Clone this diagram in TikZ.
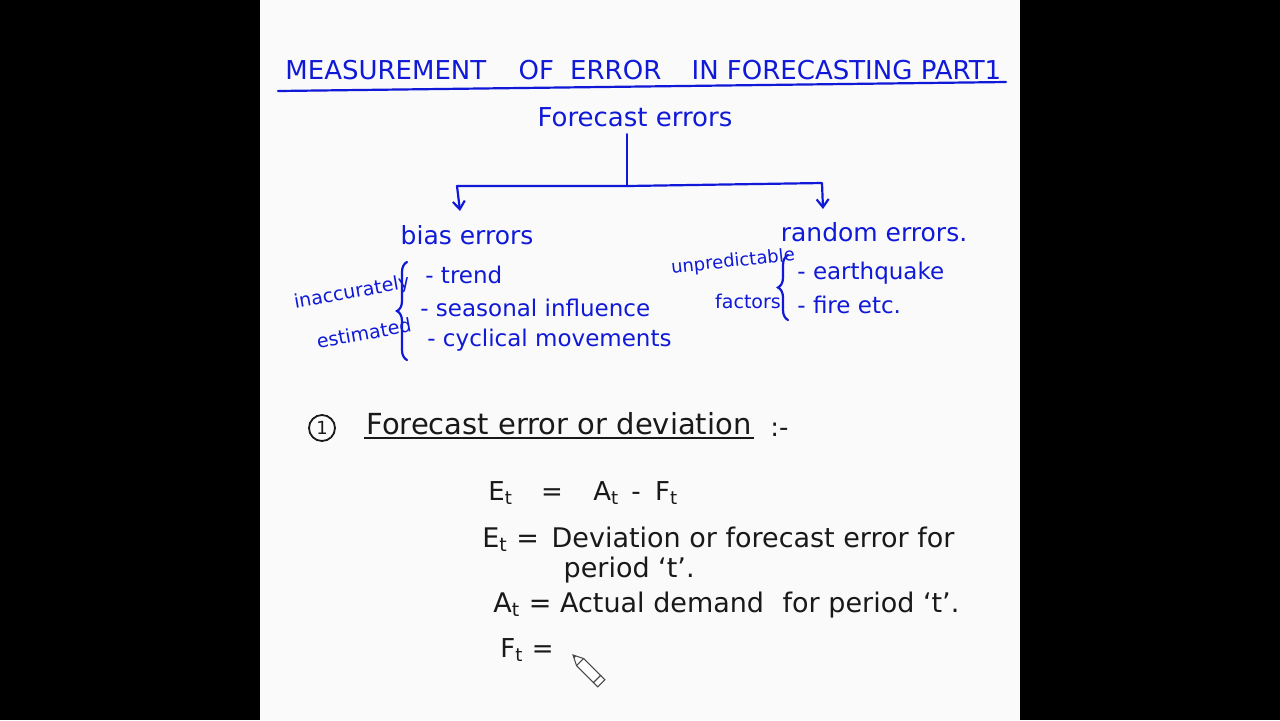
\documentclass[tikz,border=0pt]{standalone}
\usepackage{fontspec}
\setmainfont{DejaVu Sans}
\usepackage{tikz}
\usetikzlibrary{arrows.meta, positioning, decorations.pathreplacing}
\definecolor{penblue}{RGB}{15, 25, 215}
\definecolor{penblack}{RGB}{25, 25, 25}
\definecolor{paper}{RGB}{250, 250, 250}
\tikzset{
  blueink/.style={text=penblue, inner sep=1pt,
    font=\fontsize{12.5}{15}\selectfont},
  itemink/.style={blueink, anchor=west, font=\fontsize{11.5}{14}\selectfont},
  noteink/.style={blueink, font=\fontsize{9.5}{11}\selectfont},
  blackink/.style={text=penblack, inner sep=1pt, anchor=west,
    font=\fontsize{13}{15}\selectfont},
  stroke/.style={draw=penblue, line width=1.1pt, line cap=round, line join=round},
  branch/.style={stroke, -{Straight Barb[length=4pt, width=6pt]}},
  curly/.style={draw=penblue, line width=1.1pt, line cap=round,
    decorate, decoration={brace, amplitude=5pt}},
}

\begin{document}
\begin{tikzpicture}[x=0.5pt, y=-0.5pt]

  % ── Screen and page ──
  \fill[black] (0,0) rectangle (1280,720);
  \fill[paper] (260,0) rectangle (1020,720);

  % ── Title ──
  \node[blueink, anchor=west, font=\fontsize{13}{15}\selectfont] (title) at (283,70)
    {MEASUREMENT\hspace{12pt} OF\hspace{4pt} ERROR\hspace{11pt} IN FORECASTING PART1};
  \coordinate (ul1) at (278,91);
  \coordinate (ul2) at (1006,82);
  \draw[stroke] (ul1) -- (ul2);

  % ── Tree ──
  \node[blueink, font=\fontsize{13}{15}\selectfont] (fe) at (635,117) {Forecast errors};
  \coordinate (fj) at (627,186);
  \coordinate (bl) at (457,186);
  \coordinate (br) at (822,183);
  \coordinate (bt) at (460,211);
  \coordinate (rt) at (823,209);
  \node[blueink] (bias) at (467,235) {bias errors};
  \node[blueink] (rand) at (874,232) {random errors.};

  \draw[stroke] (fj |- fe.south) ++(0,5) -- (fj);
  \draw[branch] (fj) -- (bl) -- (bt);
  \draw[branch] (fj) -- (br) -- (rt);

  % ── Bias errors ──
  \node[noteink, rotate=10] (inacc) at (352,293) {inaccurately};
  \node[noteink, rotate=10] (estim) at (364,333) {estimated};
  \coordinate (lb1) at (407,360);
  \coordinate (lb2) at (407,262);
  \draw[curly] (lb1) -- (lb2);
  \node[itemink] (trend) at (423,275) {- trend};
  \node[itemink] (season) at (418,308) {- seasonal influence};
  \node[itemink] (cycle) at (425,340) {- cyclical movements};

  % ── Random errors ──
  \node[noteink, rotate=6, font=\fontsize{9}{11}\selectfont] (unpred) at (733,262) {unpredictable};
  \node[noteink] (factors) at (748,301) {factors};
  \coordinate (rb1) at (788,320);
  \coordinate (rb2) at (788,255);
  \draw[curly] (rb1) -- (rb2);
  \node[itemink] (quake) at (795,273) {- earthquake};
  \node[itemink] (fire) at (795,305) {- fire etc.};

  % ── Forecast error or deviation ──
  \node[draw=penblack, line width=0.9pt, circle, minimum size=13pt, inner sep=0pt,
    text=penblack, font=\fontsize{9}{10}\selectfont] (one) at (322,428) {1};
  \node[blackink, font=\fontsize{14.5}{16}\selectfont] (fed) at (364,424) {Forecast error or deviation};
  \draw[penblack, line width=0.9pt] (fed.south west) -- (fed.south east);
  \node[blackink] (colon) at (768,430) {:-};

  % ── Definitions ──
  \node[blackink] (eq) at (486,493)
    {E\textsubscript{t}\hspace{10pt} =\hspace{11pt} A\textsubscript{t}\hspace{2pt} -\hspace{3pt} F\textsubscript{t}};
  \node[blackink, align=left, font=\fontsize{13.5}{15}\selectfont] (etdef) at (480,555)
    {E\textsubscript{t} = \hspace{2pt}Deviation or forecast error for\\
     \phantom{E\textsubscript{t} = \hspace{2pt}}\hspace{6pt}period `t'.};
  \node[blackink, font=\fontsize{13.5}{15}\selectfont] (atdef) at (491,605)
    {A\textsubscript{t} = Actual demand\hspace{5pt} for period `t'.};
  \node[blackink] (ftdef) at (498,650) {F\textsubscript{t} =};

  % ── Pencil cursor ──
  \begin{scope}[shift={(573,655)}, rotate=-45, draw=penblack!80, line width=0.5pt]
    \filldraw[fill=white] (0,0) -- (10,-5) -- (34,-5) -- (34,5) -- (10,5) -- cycle;
    \filldraw[fill=white] (34,-5) rectangle (40,5);
    \draw (10,-5) -- (10,5);
    \fill[penblack!80] (0,0) -- (3,-1.5) -- (3,1.5) -- cycle;
  \end{scope}

\end{tikzpicture}
\end{document}
